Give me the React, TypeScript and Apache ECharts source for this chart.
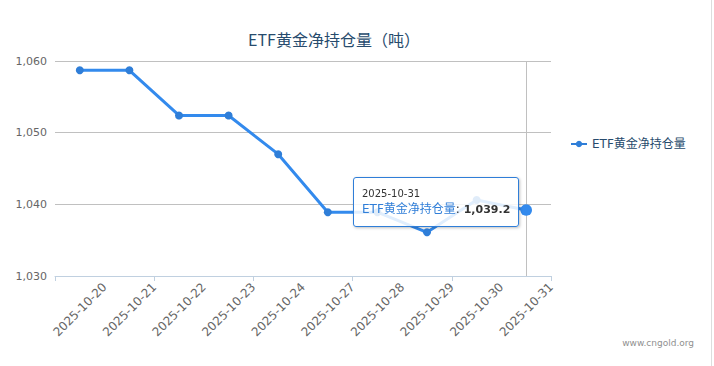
import React, { useEffect, useRef } from "react";
import * as echarts from "echarts";

const categories = [
  "2025-10-20",
  "2025-10-21",
  "2025-10-22",
  "2025-10-23",
  "2025-10-24",
  "2025-10-27",
  "2025-10-28",
  "2025-10-29",
  "2025-10-30",
  "2025-10-31",
];
const holdings = [1058.7, 1058.7, 1052.4, 1052.4, 1047.0, 1038.9, 1038.9, 1036.1, 1040.6, 1039.2];
const yMin = 1030;
const yMax = 1060;
const yStep = 10;
const seriesName = "ETF黄金净持仓量";
const titleText = "ETF黄金净持仓量（吨）";
const creditText = "www.cngold.org";
const tipIndex = 9;

const FONT = '"DejaVu Sans", "Noto Sans CJK SC", sans-serif';
const TITLE_FONT = '"Noto Sans CJK SC", "DejaVu Sans", sans-serif';
const BLUE = "#2f7ed8";

export default function App() {
  const ref = useRef<HTMLDivElement>(null);
  useEffect(() => {
    if (!ref.current) return;
    const chart = echarts.init(ref.current, null, { renderer: "svg" });
    const fmt = (v: number, d = 0) =>
      v.toLocaleString("en-US", { minimumFractionDigits: d, maximumFractionDigits: d });
    chart.setOption({
      animation: false,
      textStyle: { fontFamily: FONT },
      title: {
        text: titleText,
        left: 334,
        top: 31,
        padding: 0,
        textAlign: "center",
        textStyle: { fontFamily: TITLE_FONT, fontSize: 16, fontWeight: "normal", color: "#274b6d" },
      },
      legend: {
        orient: "vertical",
        left: 570,
        top: 138,
        padding: 0,
        itemWidth: 16,
        itemHeight: 8,
        itemGap: 5,
        data: [seriesName],
        textStyle: { fontFamily: FONT, fontSize: 12, color: "#274b6d", padding: [0, 0, 0, 0] },
      },
      grid: { left: 55, right: 163, top: 61, bottom: 90, containLabel: false },
      tooltip: {
        trigger: "axis",
        triggerOn: "none",
        alwaysShowContent: true,
        transitionDuration: 0,
        showDelay: 0,
        position: [353, 177],
        backgroundColor: "rgba(255,255,255,0.85)",
        borderColor: BLUE,
        borderWidth: 1,
        padding: [8, 8],
        extraCssText: "border-radius:3px;box-shadow:1px 1px 3px rgba(0,0,0,0.25);",
        axisPointer: {
          type: "line",
          z: 1,
          lineStyle: { color: "#C0C0C0", width: 1, type: "solid" },
          label: { show: false },
        },
        formatter: (params: any) => {
          const p = Array.isArray(params) ? params[0] : params;
          return (
            `<div style="font-family:${FONT.replace(/"/g, "'")};color:#333;">` +
            `<div style="font-size:10px;line-height:15px;">${p.axisValue}</div>` +
            `<div style="font-size:12px;line-height:16px;white-space:nowrap;"><span style="color:${BLUE}">${p.seriesName}</span>: <b style="font-size:11px">${fmt(p.value, 1)}</b></div>` +
            `</div>`
          );
        },
      },
      xAxis: [
        {
          type: "category",
          data: categories,
          boundaryGap: true,
          position: "bottom",
          axisLine: { show: true, lineStyle: { color: "#C0D0E0", width: 1 } },
          axisTick: { show: true, length: 5, lineStyle: { color: "#C0D0E0" } },
          axisLabel: { show: false },
          splitLine: { show: false },
        },
        {
          type: "category",
          data: ["", ...categories],
          boundaryGap: false,
          position: "bottom",
          axisLine: { show: false },
          axisTick: { show: false },
          splitLine: { show: false },
          axisPointer: { show: false },
          axisLabel: {
            show: true,
            interval: 0,
            rotate: 45,
            margin: 9,
            color: "#666",
            fontSize: 12,
            fontFamily: FONT,
          },
        },
      ],
      yAxis: {
        type: "value",
        min: yMin,
        max: yMax,
        interval: yStep,
        axisLine: { show: false },
        axisTick: { show: false },
        splitLine: { show: true, lineStyle: { color: "#C0C0C0", width: 1 } },
        axisLabel: {
          margin: 8,
          color: "#666",
          fontSize: 11,
          fontFamily: FONT,
          formatter: (v: number) => fmt(v),
        },
      },
      series: [
        {
          name: seriesName,
          type: "line",
          xAxisIndex: 0,
          z: 3,
          data: holdings,
          symbol: "circle",
          symbolSize: 8,
          showSymbol: true,
          color: BLUE,
          itemStyle: { color: BLUE },
          lineStyle: { color: BLUE, width: 3 },
          emphasis: { scale: 1.45, lineStyle: { width: 3 } },
        },
      ],
      graphic: [
        {
          type: "text",
          right: 20,
          top: 338,
          style: { text: creditText, fill: "#909090", fontSize: 9, fontFamily: FONT },
        },
        {
          type: "line",
          shape: { x1: 711.5, y1: 0, x2: 711.5, y2: 366 },
          style: { stroke: "#dddddd", lineWidth: 1 },
        },
      ],
    });
    chart.dispatchAction({ type: "showTip", seriesIndex: 0, dataIndex: tipIndex });
    return () => chart.dispose();
  }, []);
  return (
    <div style={{ position: "fixed", left: 0, top: 0, width: 714, height: 366, background: "#fff" }}>
      <div ref={ref} style={{ width: 714, height: 366 }} />
    </div>
  );
}
